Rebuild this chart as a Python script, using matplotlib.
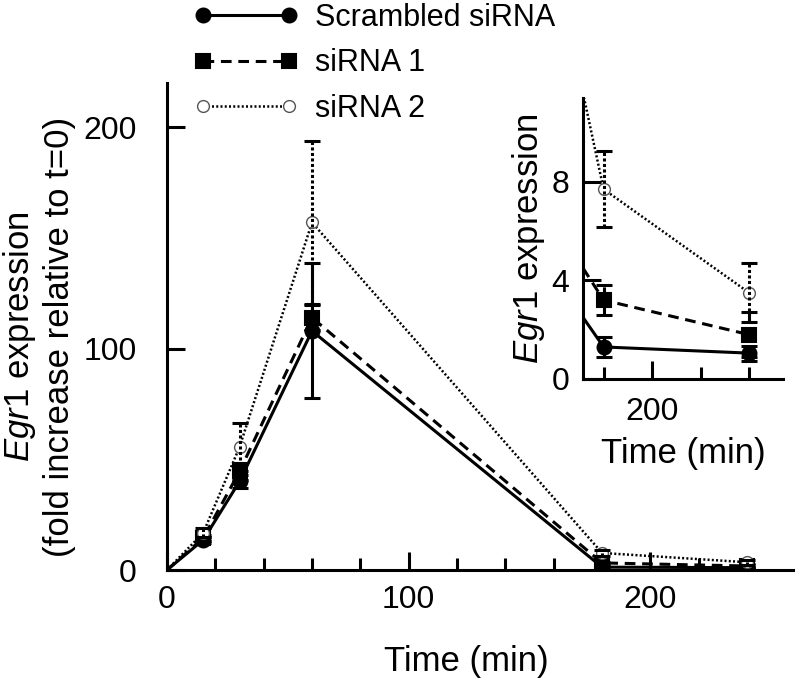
import matplotlib
matplotlib.use('Agg')
import matplotlib.pyplot as plt
from matplotlib.lines import Line2D

plt.rcParams['font.family'] = ['Liberation Sans', 'DejaVu Sans']
plt.rcParams['mathtext.fontset'] = 'custom'
plt.rcParams['mathtext.rm'] = 'Liberation Sans'
plt.rcParams['mathtext.it'] = 'Liberation Sans:italic'

# main panel data
time = [0, 15, 30, 60, 180, 240]
scrambled = [0, 13.6, 40, 108, 1.3, 1.05]
sirna1 = [0, 14.5, 44.5, 114, 3.2, 1.8]
sirna2 = [0, 16.8, 55.5, 157, 7.7, 3.5]
scrambled_err = [0, 1.5, 3, 30.5, 0.4, 0.3]
sirna1_err = [0, 1.5, 4, 5.5, 0.6, 0.9]
sirna2_err = [0, 2, 11, 37, 1.55, 1.2]

# inset: values where the lines enter the inset, then the 180/240 points
inset_time = [171.5, 180, 240]
inset_scrambled = [2.5, 1.3, 1.05]
inset_sirna1 = [4.5, 3.2, 1.8]
inset_sirna2 = [11.6, 7.7, 3.5]
inset_scrambled_err = [0, 0.4, 0.3]
inset_sirna1_err = [0, 0.6, 0.9]
inset_sirna2_err = [0, 1.55, 1.2]

labels = ['Scrambled siRNA', 'siRNA 1', 'siRNA 2']

FS_LEG = 22
FS_TICK = 23
FS_LAB = 25

styles = [
    dict(ls='-', lw=2.2, marker='o', ms=10, mfc='black', mec='black', mew=1.5),
    dict(ls=(0, (3.5, 2.2)), lw=2.2, marker='s', ms=9.5, mfc='black', mec='black', mew=1.5),
    dict(ls=(0, (0.8, 0.9)), lw=1.8, marker='o', ms=8.5, mfc='white', mec='#555555', mew=1.0),
]
err_ls = ['-', (0, (3.5, 2.2)), (0, (1.0, 0.8))]


def draw(ax, x, ys, errs, mark):
    for y, e, st, els in zip(ys, errs, styles, err_ls):
        ax.plot(x, y, color='black', markevery=mark, **st)
        xe = x[mark.start:]
        ye = y[mark.start:]
        ee = e[mark.start:]
        _, caps, bars = ax.errorbar(xe, ye, yerr=ee, fmt='none', ecolor='black',
                                    elinewidth=2.2, capsize=6, capthick=2.2)
        for b in bars:
            b.set_linestyle(els)


def style_axes(ax, pad_x, pad_y):
    ax.spines['top'].set_visible(False)
    ax.spines['right'].set_visible(False)
    ax.spines['left'].set_linewidth(2.2)
    ax.spines['bottom'].set_linewidth(2.2)
    ax.tick_params(which='major', direction='in', length=13, width=2.2, labelsize=FS_TICK)
    ax.tick_params(which='minor', direction='in', length=8.5, width=2.2)
    ax.tick_params(axis='x', pad=pad_x)
    ax.tick_params(axis='y', pad=pad_y)


fig = plt.figure(figsize=(8.0, 6.85), dpi=100)

ax = fig.add_axes([167 / 800, 1 - 570 / 685, (793 - 167) / 800, (570 - 83) / 685])
draw(ax, time, [scrambled, sirna1, sirna2], [scrambled_err, sirna1_err, sirna2_err], slice(1, None))
ax.set_xlim(0, 259)
ax.set_ylim(0, 220)
ax.set_xticks([0, 100, 200])
ax.set_xticks(range(20, 260, 20), minor=True)
ax.set_yticks([0, 100, 200])
style_axes(ax, 11, 22)
ax.set_xlabel('Time (min)', fontsize=FS_LAB)
ax.xaxis.set_label_coords((466 - 167) / 626, -(645 - 570) / 487)
ax.set_ylabel('$\\mathit{Egr1}$ expression\n(fold increase relative to t=0)',
              fontsize=FS_LAB, linespacing=1.2)
ax.yaxis.set_label_coords(-(167 - 76) / 626, (570 - 337) / 487)

ins = fig.add_axes([583 / 800, 1 - 379 / 685, 200 / 800, (379 - 98) / 685])
draw(ins, inset_time, [inset_scrambled, inset_sirna1, inset_sirna2],
     [inset_scrambled_err, inset_sirna1_err, inset_sirna2_err], slice(1, None))
ins.set_xlim(171.5, 254)
ins.set_ylim(0, 11.4)
ins.set_xticks([200])
ins.set_xticks([180, 220, 240], minor=True)
ins.set_yticks([0, 4, 8])
style_axes(ins, 13, 10)
ins.set_xlabel('Time (min)', fontsize=FS_LAB, labelpad=7)
ins.set_ylabel('$\\mathit{Egr1}$ expression', fontsize=FS_LAB, labelpad=3)

handles = [Line2D([], [], color='black', **st) for st in styles]
fig.legend(handles, labels, loc='upper left', bbox_to_anchor=(194 / 800, 1 - 3 / 685),
           frameon=False, fontsize=FS_LEG, numpoints=2, handlelength=3.4,
           handletextpad=0.55, labelspacing=0.5, borderpad=0, borderaxespad=0)

fig.savefig('out.png', dpi=100)
